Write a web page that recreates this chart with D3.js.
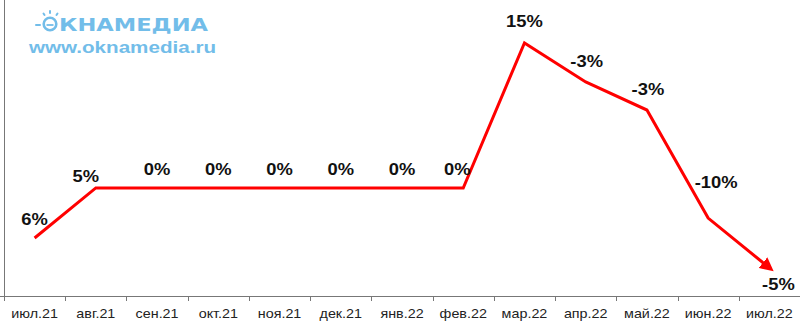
<!DOCTYPE html>
<html>
<head>
<meta charset="utf-8">
<script src="https://cdn.jsdelivr.net/npm/d3@7"></script>
<style>
  html, body { margin: 0; padding: 0; background: #fff; }
  svg { display: block; }
</style>
</head>
<body>
<div id="chart"></div>
<script>
'use strict';

// months on the x axis
var months = ['июл.21', 'авг.21', 'сен.21', 'окт.21', 'ноя.21', 'дек.21', 'янв.22',
  'фев.22', 'мар.22', 'апр.22', 'май.22', 'июн.22', 'июл.22'];
// index level
var levels = [23.5, 43.8, 43.8, 43.8, 43.8, 43.8, 43.8, 43.8, 102.6, 86.8, 75.4, 31.6, 11.4];
// labels shown at each point
var changes = ['6%', '5%', '0%', '0%', '0%', '0%', '0%', '0%', '15%', '-3%', '-3%', '-10%', '-5%'];

// label nudges from the point (layout only)
var nudgeX = [0, -10, 0, 0, 0, 0, 0, -6, 0, 1, 1, 8, 9];
var nudgeY = [-13, -6, -13, -13, -13, -13, -13, -13, -16, -15, -15, -30, 22];

var width = 800, height = 328;
var axisY = 296, axisX = 4;
var stretch = 1.08;

var svg = d3.select('#chart')
  .append('svg')
  .attr('width', width)
  .attr('height', height);

var x = d3.scaleBand()
  .domain(months)
  .range([axisX, width]);

var y = d3.scaleLinear()
  .domain([0, 120])
  .range([axisY, 0]);

svg.append('defs')
  .append('marker')
  .attr('id', 'arrow')
  .attr('viewBox', '0 0 10 10')
  .attr('refX', 6)
  .attr('refY', 5)
  .attr('markerWidth', 4.6)
  .attr('markerHeight', 4.6)
  .attr('markerUnits', 'strokeWidth')
  .attr('orient', 'auto')
  .append('path')
  .attr('d', 'M0,0 L10,5 L0,10 z')
  .attr('fill', '#ff0000');

// logo
var logo = svg.append('g').attr('fill', '#72bde9');
logo.append('circle')
  .attr('cx', 50).attr('cy', 24).attr('r', 6.3)
  .attr('fill', 'none').attr('stroke', '#72bde9').attr('stroke-width', 2.6);
logo.append('line')
  .attr('x1', 46.5).attr('y1', 25).attr('x2', 53.5).attr('y2', 25)
  .attr('stroke', '#72bde9').attr('stroke-width', 1.8);
[[36, 25, 40, 25], [43.5, 13.5, 44.5, 15], [50, 11, 50, 13], [56.5, 15, 57.5, 13.5]].forEach(function(r){
  logo.append('line')
    .attr('x1', r[0]).attr('y1', r[1]).attr('x2', r[2]).attr('y2', r[3])
    .attr('stroke', '#72bde9').attr('stroke-width', 2)
    .attr('stroke-linecap', 'round');
});
logo.append('text')
  .attr('x', 59).attr('y', 31)
  .attr('font-family', '"DejaVu Sans", sans-serif')
  .attr('font-weight', 'bold')
  .attr('font-size', 17.5)
  .attr('textLength', 149)
  .attr('lengthAdjust', 'spacingAndGlyphs')
  .text('КНАМЕДИА');
logo.append('text')
  .attr('x', 29).attr('y', 53)
  .attr('font-family', 'Arial, "Liberation Sans", sans-serif')
  .attr('font-weight', 'bold')
  .attr('font-size', 16.5)
  .attr('textLength', 187)
  .attr('lengthAdjust', 'spacingAndGlyphs')
  .text('www.oknamedia.ru');

// axes
svg.append('line')
  .attr('x1', axisX + 0.5).attr('y1', 0)
  .attr('x2', axisX + 0.5).attr('y2', axisY + 0.5)
  .attr('stroke', '#777').attr('stroke-width', 1);

var tickEdges = months.map(function(m){ return x(m); }).concat([x.range()[1]]);
svg.append('line')
  .attr('x1', 0).attr('y1', axisY + 0.5)
  .attr('x2', width).attr('y2', axisY + 0.5)
  .attr('stroke', '#777').attr('stroke-width', 1);
svg.selectAll('.tick')
  .data(tickEdges)
  .enter()
  .append('line')
  .attr('class', 'tick')
  .attr('x1', function(d){ return Math.round(d) + 0.5; })
  .attr('x2', function(d){ return Math.round(d) + 0.5; })
  .attr('y1', axisY)
  .attr('y2', axisY + 5)
  .attr('stroke', '#777');

svg.selectAll('.mlabel')
  .data(months)
  .enter()
  .append('text')
  .attr('class', 'mlabel')
  .attr('transform', function(d){
    return 'translate(' + (x(d) + x.bandwidth() / 2) + ',' + 318 + ') scale(1.12,1)';
  })
  .attr('text-anchor', 'middle')
  .attr('font-family', 'Arial, "Liberation Sans", sans-serif')
  .attr('font-size', 12.8)
  .attr('fill', '#222')
  .text(function(d){ return d; });

// line
var pts = months.map(function(m, i){
  return { m: m, v: levels[i], label: changes[i], i: i };
});
var line = d3.line()
  .x(function(d){ return x(d.m) + x.bandwidth() / 2; })
  .y(function(d){ return y(d.v); });

svg.append('path')
  .datum(pts)
  .attr('d', line)
  .attr('fill', 'none')
  .attr('stroke', '#ff0000')
  .attr('stroke-width', 3)
  .attr('stroke-linejoin', 'miter')
  .attr('marker-end', 'url(#arrow)');

svg.selectAll('.vlabel')
  .data(pts)
  .enter()
  .append('text')
  .attr('class', 'vlabel')
  .attr('transform', function(d){
    var px = x(d.m) + x.bandwidth() / 2 + nudgeX[d.i];
    var py = y(d.v) + nudgeY[d.i];
    return 'translate(' + px + ',' + py + ') scale(' + stretch + ',1)';
  })
  .attr('text-anchor', 'middle')
  .attr('font-family', 'Arial, "Liberation Sans", sans-serif')
  .attr('font-weight', 'bold')
  .attr('font-size', 17)
  .attr('fill', '#111')
  .text(function(d){ return d.label; });
</script>
</body>
</html>
